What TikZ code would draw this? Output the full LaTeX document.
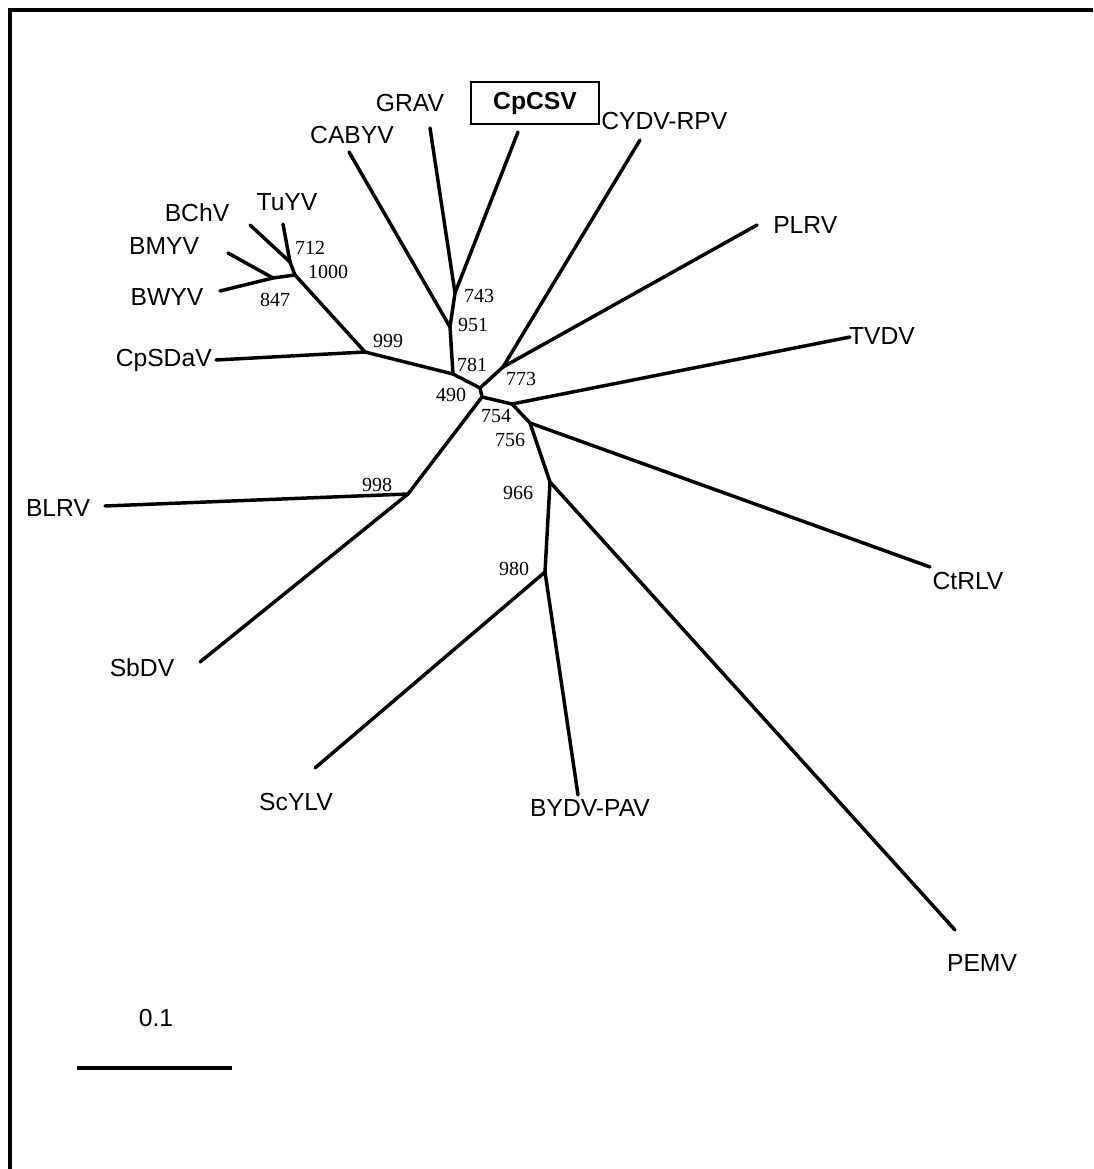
\documentclass[tikz,border=0pt]{standalone}
\usepackage{fontspec}
\setmainfont{Liberation Sans}
\newfontfamily\numfont{Liberation Serif}
\begin{document}
\begin{tikzpicture}[x=0.75pt,y=-0.75pt,
  br/.style={line width=2.6pt, line cap=round, line join=round},
  lab/.style={font=\fontsize{18.5pt}{20pt}\selectfont, inner sep=0pt},
  bs/.style={font=\numfont\fontsize{15pt}{16pt}\selectfont, inner sep=0pt}]
\useasboundingbox (0,0) rectangle (1093,1169);
% frame (left and top edges visible)
\coordinate (fbl) at (9.5,1169);
\coordinate (ftl) at (9.5,10.5);
\coordinate (ftr) at (1093,10.5);
\draw[line width=3pt] (fbl) -- (ftl) -- (ftr);
% internal nodes
\coordinate (n712) at (290,262);
\coordinate (n1000) at (295,275);
\coordinate (n847) at (273,278);
\coordinate (n999) at (365,352);
\coordinate (n781) at (453,374);
\coordinate (n490) at (480,388);
\coordinate (n754) at (482,397);
\coordinate (n773) at (503,367);
\coordinate (n951) at (450,327);
\coordinate (n743) at (455,293);
\coordinate (nI) at (512,404);
\coordinate (n756) at (530,423);
\coordinate (n966) at (550,482);
\coordinate (n980) at (545,572);
\coordinate (n998) at (408,494);
% leaf tips
\coordinate (tTuYV) at (283,224);
\coordinate (tBChV) at (250,225);
\coordinate (tBMYV) at (228,253);
\coordinate (tBWYV) at (220,291);
\coordinate (tCpSDaV) at (216,360);
\coordinate (tCABYV) at (349,152);
\coordinate (tGRAV) at (430,128);
\coordinate (tCpCSV) at (518,132);
\coordinate (tCYDV) at (640,140);
\coordinate (tPLRV) at (757,225);
\coordinate (tTVDV) at (850,337);
\coordinate (tCtRLV) at (930,567);
\coordinate (tPEMV) at (955,930);
\coordinate (tBYDV) at (578,795);
\coordinate (tScYLV) at (315,768);
\coordinate (tSbDV) at (200,662);
\coordinate (tBLRV) at (105,506);
% branches
\draw[br] (tTuYV) -- (n712);
\draw[br] (tBChV) -- (n712);
\draw[br] (n712) -- (n1000);
\draw[br] (tBMYV) -- (n847);
\draw[br] (tBWYV) -- (n847) -- (n1000);
\draw[br] (n1000) -- (n999);
\draw[br] (tCpSDaV) -- (n999);
\draw[br] (n999) -- (n781);
\draw[br] (tGRAV) -- (n743);
\draw[br] (tCpCSV) -- (n743);
\draw[br] (n743) -- (n951);
\draw[br] (tCABYV) -- (n951);
\draw[br] (n951) -- (n781);
\draw[br] (n781) -- (n490);
\draw[br] (n490) -- (n773);
\draw[br] (n773) -- (tCYDV);
\draw[br] (n773) -- (tPLRV);
\draw[br] (n490) -- (n754);
\draw[br] (n754) -- (nI);
\draw[br] (nI) -- (tTVDV);
\draw[br] (nI) -- (n756);
\draw[br] (n756) -- (tCtRLV);
\draw[br] (n756) -- (n966);
\draw[br] (n966) -- (tPEMV);
\draw[br] (n966) -- (n980);
\draw[br] (n980) -- (tBYDV);
\draw[br] (n980) -- (tScYLV);
\draw[br] (n754) -- (n998);
\draw[br] (n998) -- (tBLRV);
\draw[br] (n998) -- (tSbDV);
% leaf labels
\node[lab] (lTuYV) at (287,202) {TuYV};
\node[lab] (lBChV) at (197,213) {BChV};
\node[lab] (lBMYV) at (164,246) {BMYV};
\node[lab] (lBWYV) at (167,297) {BWYV};
\node[lab, anchor=east] (lCpSDaV) at (212,360) {CpSDaV};
\node[lab] (lCABYV) at (352,135) {CABYV};
\node[lab] (lGRAV) at (410,103) {GRAV};
\node[draw, line width=1.5pt, minimum width=96pt, minimum height=32pt, inner sep=0pt, font=\bfseries\fontsize{18.5pt}{20pt}\selectfont] (lCpCSV) at (535,103) {CpCSV};
\node[lab, anchor=west] (lCYDV) at (601,121) {CYDV-RPV};
\node[lab, anchor=west] (lPLRV) at (773,225) {PLRV};
\node[lab] (lTVDV) at (882,336) {TVDV};
\node[lab] (lBLRV) at (58,508) {BLRV};
\node[lab] (lCtRLV) at (968,581) {CtRLV};
\node[lab] (lSbDV) at (142,668) {SbDV};
\node[lab] (lScYLV) at (296,802) {ScYLV};
\node[lab] (lBYDV) at (590,808) {BYDV-PAV};
\node[lab] (lPEMV) at (982,963) {PEMV};
% bootstrap values
\node[bs] (b712) at (310,248) {712};
\node[bs] (b1000) at (328,272) {1000};
\node[bs] (b847) at (275,300) {847};
\node[bs] (b999) at (388,341) {999};
\node[bs] (b743) at (479,296) {743};
\node[bs] (b951) at (473,325) {951};
\node[bs] (b781) at (472,365) {781};
\node[bs] (b773) at (521,379) {773};
\node[bs] (b490) at (451,395) {490};
\node[bs] (b754) at (496,416) {754};
\node[bs] (b756) at (510,440) {756};
\node[bs] (b966) at (518,493) {966};
\node[bs] (b980) at (514,569) {980};
\node[bs] (b998) at (377,485) {998};
% scale bar
\node[lab] (lscale) at (156,1018) {0.1};
\coordinate (sbL) at (77,1068);
\coordinate (sbR) at (232,1068);
\draw[line width=2.6pt] (sbL) -- (sbR);
\end{tikzpicture}
\end{document}
